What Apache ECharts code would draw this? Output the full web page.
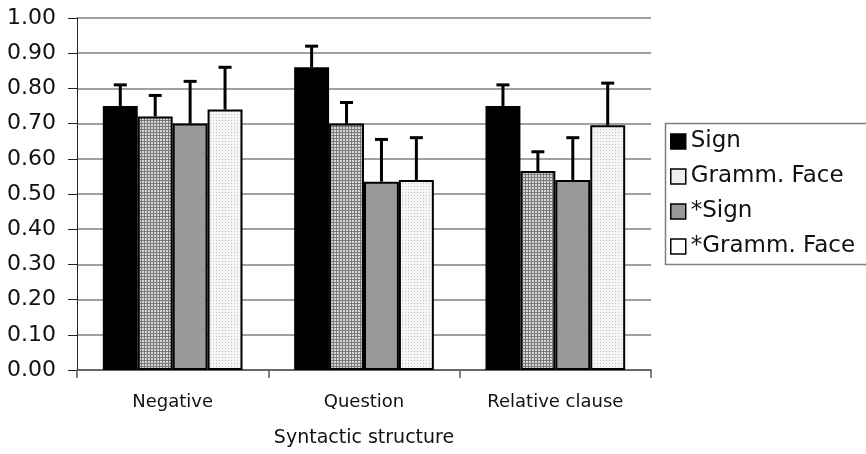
<!DOCTYPE html>
<html><head><meta charset="utf-8">
<script src="https://cdn.jsdelivr.net/npm/echarts@6/dist/echarts.min.js"></script>
<style>html,body{margin:0;padding:0;background:#fff}#c{width:866px;height:454px}</style>
</head><body><div id="c"></div>
<script>
const categories = ['Negative', 'Question', 'Relative clause'];
const seriesNames = ['Sign', 'Gramm. Face', '*Sign', '*Gramm. Face'];
const signVals = [0.75, 0.86, 0.75];
const signErr = [0.81, 0.92, 0.81];
const grammVals = [0.72, 0.70, 0.565];
const grammErr = [0.78, 0.76, 0.62];
const starSignVals = [0.70, 0.535, 0.54];
const starSignErr = [0.82, 0.655, 0.66];
const starGrammVals = [0.74, 0.54, 0.695];
const starGrammErr = [0.86, 0.66, 0.815];
const yTicks = [0, 0.1, 0.2, 0.3, 0.4, 0.5, 0.6, 0.7, 0.8, 0.9, 1.0];

function pattern(bg, fg, kind) {
  const c = document.createElement('canvas');
  c.width = 3; c.height = 3;
  const g = c.getContext('2d');
  g.fillStyle = bg; g.fillRect(0, 0, 3, 3);
  g.fillStyle = fg;
  if (kind === 'grid') { g.fillRect(0, 0, 3, 1); g.fillRect(0, 0, 1, 3); }
  else { g.fillRect(0, 0, 1, 1); }
  return { image: c, repeat: 'repeat' };
}
const fills = ['#000000', pattern('#d6d6d6', '#7a7a7a', 'grid'), '#999999', pattern('#f6f6f6', '#c4c4c4', 'dot')];
const vals = [signVals, grammVals, starSignVals, starGrammVals];
const errs = [signErr, grammErr, starSignErr, starGrammErr];
const gapRatio = 0.27;
const FONT = 'DejaVu Sans, Liberation Sans, Arial, sans-serif';

const series = [];
vals.forEach((v, i) => {
  series.push({
    name: seriesNames[i], type: 'bar', data: v, barGap: '0%', barCategoryGap: (gapRatio * 100) + '%',
    itemStyle: { color: fills[i], borderColor: '#000', borderWidth: 2 }, z: 2
  });
});
vals.forEach((v, i) => {
  series.push({
    type: 'custom', z: 3, silent: true,
    data: v.map((val, k) => [k, val, errs[i][k]]),
    renderItem: function (params, api) {
      const cw = api.size([1, 0])[0];
      const bw = cw * (1 - gapRatio) / 4;
      const off = -2 * bw + bw * (i + 0.5);
      const p0 = api.coord([api.value(0), api.value(1)]);
      const p1 = api.coord([api.value(0), api.value(2)]);
      const x = p0[0] + off;
      const st = { stroke: '#000', lineWidth: 3 };
      return { type: 'group', children: [
        { type: 'line', shape: { x1: x, y1: p0[1], x2: x, y2: p1[1] }, style: st },
        { type: 'line', shape: { x1: x - 6.5, y1: p1[1], x2: x + 6.5, y2: p1[1] }, style: st }
      ] };
    }
  });
});

const legendIcons = ['#000000', '#eeeeee', '#999999', '#ffffff'];
const chart = echarts.init(document.getElementById('c'));
chart.setOption({
  animation: false,
  textStyle: { fontFamily: FONT },
  grid: { left: 77, right: 215, top: 18, bottom: 84 },
  xAxis: {
    type: 'category', data: categories,
    name: 'Syntactic structure', nameLocation: 'middle', nameGap: 59,
    nameTextStyle: { fontSize: 19, color: '#111', fontFamily: FONT },
    axisLine: { lineStyle: { color: '#555', width: 1.5 } },
    axisTick: { show: true, length: 8, lineStyle: { color: '#555', width: 1.5 } },
    axisLabel: { fontSize: 18, color: '#111', margin: 23, fontFamily: FONT }
  },
  yAxis: {
    type: 'value', min: 0, max: 1, interval: 0.1,
    axisLine: { show: true, lineStyle: { color: '#222', width: 1 } },
    axisTick: { show: true, length: 9, lineStyle: { color: '#222' } },
    axisLabel: { fontSize: 22, color: '#111', margin: 21, fontFamily: FONT, formatter: v => v.toFixed(2) },
    splitLine: { lineStyle: { color: '#808080', width: 1.5 } }
  },
  legend: {
    orient: 'vertical', left: 665, top: 125, itemGap: 12, itemWidth: 15, itemHeight: 15,
    icon: 'rect', textStyle: { fontSize: 23, color: '#111', fontFamily: FONT },
    data: seriesNames.map((n, i) => ({ name: n, itemStyle: { color: legendIcons[i], borderColor: '#000', borderWidth: 1.5 } }))
  },
  graphic: [{ type: 'rect', left: 663, top: 121, shape: { width: 260, height: 141 }, style: { fill: 'none', stroke: '#808080', lineWidth: 1.5 } }],
  series: series
});
</script></body></html>
